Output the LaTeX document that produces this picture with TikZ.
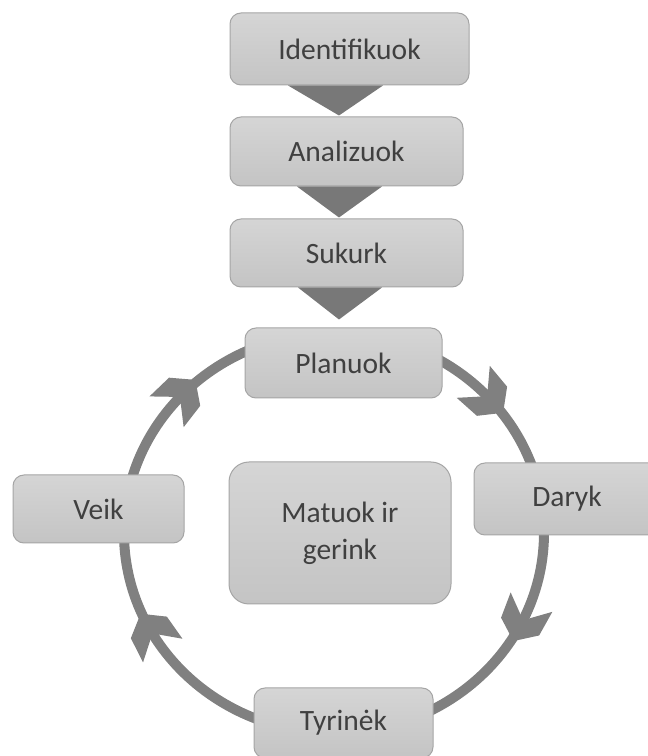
\documentclass[tikz,border=0pt]{standalone}
\usepackage{fontspec}
\setmainfont{Carlito}
\definecolor{boxtop}{RGB}{213,213,213}
\definecolor{boxbot}{RGB}{196,196,196}
\definecolor{boxedge}{RGB}{165,165,165}
\definecolor{flow}{RGB}{120,120,120}
\definecolor{ring}{RGB}{128,128,128}
\definecolor{label}{RGB}{64,64,64}
\begin{document}
\begin{tikzpicture}[x=1pt,y=1pt,
  stepbox/.style={draw=boxedge, line width=1pt, rounded corners=11pt,
    top color=boxtop, bottom color=boxbot, text=label,
    font=\fontsize{29.5}{37}\selectfont, align=center, inner sep=0pt},
  flowtip/.style={fill=flow},
  ringline/.style={draw=ring, line width=10pt},
  ringtip/.style={fill=ring}]
\useasboundingbox (0,0) rectangle (648,756);

% centre of the cycle
\coordinate (hub) at (334,223);

% the cycle ring and its arrow heads
\draw[ringline] (hub) ellipse [x radius=210pt, y radius=200pt];
\foreach \t in {44,-25,211,138}{
  \begin{scope}[shift={(hub)}, shift={(\t:210 and 200)}, rotate=\t-90]
    \fill[ringtip] (26,0) -- (10,21) -- (-17,23) -- (3,0) -- (-17,-23) -- (10,-21) -- cycle;
  \end{scope}
}

% linear steps at the top
\node[stepbox, minimum width=239pt, minimum height=72pt] (ident) at (349.5,707) {Identifikuok};
\node[stepbox, minimum width=233pt, minimum height=69pt] (anal) at (346.5,604.5) {Analizuok};
\node[stepbox, minimum width=233pt, minimum height=68pt] (create) at (346.5,503) {Sukurk};

% cycle steps
\node[stepbox, minimum width=197pt, minimum height=70pt] (plan) at (343.5,393) {Planuok};
\node[stepbox, minimum width=186pt, minimum height=72pt] (do) at (567,257) {Daryk};
\node[stepbox, minimum width=179pt, minimum height=70pt] (study) at (343.5,33) {Tyrinėk};
\node[stepbox, minimum width=171pt, minimum height=68pt] (act) at (98.5,247) {Veik};

% centre box
\node[stepbox, rounded corners=20pt, minimum width=222pt, minimum height=142pt] (measure) at (340,223) {Matuok ir\\gerink};

% downward triangles between the linear steps
\fill[flowtip] ([xshift=-61.5pt]ident.south) -- ([xshift=33.5pt]ident.south) -- ([xshift=-7.5pt,yshift=1pt]anal.north) -- cycle;
\fill[flowtip] ([xshift=-49.5pt]anal.south) -- ([xshift=35.5pt]anal.south) -- ([xshift=-7.5pt,yshift=1pt]create.north) -- cycle;
\fill[flowtip] ([xshift=-48.5pt]create.south) -- ([xshift=35.5pt]create.south) -- ([xshift=-4.5pt,yshift=8pt]plan.north) -- cycle;
\end{tikzpicture}
\end{document}
